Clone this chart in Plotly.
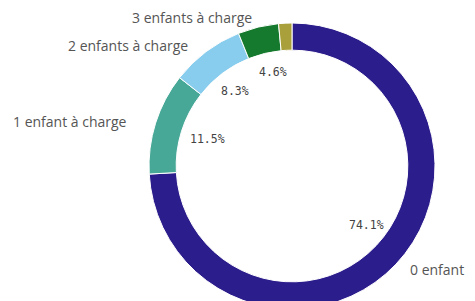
import plotly.graph_objects as go

W, H = 467, 301
OFF = 8  # page body margin in the browser

categories = ["0 enfant", "1 enfant à charge", "2 enfants à charge", "3 enfants à charge", "4 enfants ou plus"]
values = [74.1, 11.5, 8.3, 4.6, 1.5]
pct_labels = ["74.1%", "11.5%", "8.3%", "4.6%", ""]
colors = ["#2c1d8c", "#48a897", "#88cdee", "#167a2e", "#a9a03c"]


def px(x, y):
    return (x - OFF) / W, 1 - (y - OFF) / H


# pie box in page pixels
CX, CY, R = 292, 166, 143
x0, y_top = px(CX - R, CY - R)
x1, y_bot = px(CX + R, CY + R)
y_bot = max(0.0, y_bot)

fig = go.Figure(go.Pie(
    labels=categories,
    values=values,
    sort=False,
    direction="clockwise",
    rotation=0,
    hole=0.81,
    textinfo="none",
    hoverinfo="label+percent",
    marker=dict(colors=colors, line=dict(color="white", width=1)),
    domain=dict(x=[x0, x1], y=[y_bot, y_top]),
    showlegend=False,
))

# outside category labels (pixel positions of text centers)
cat_pos = {
    "0 enfant": (437, 269),
    "1 enfant à charge": (70, 121),
    "2 enfants à charge": (128, 45),
    "3 enfants à charge": (192, 18),
}
for name, (x, y) in cat_pos.items():
    xp, yp = px(x, y)
    fig.add_annotation(x=xp, y=yp, xref="paper", yref="paper", text=name,
                       showarrow=False, xanchor="center", yanchor="middle",
                       font=dict(family="Open Sans", size=14, color="#555555"))

pct_pos = [(366, 225), (207, 139), (235, 91), (273, 72)]
for t, (x, y) in zip(pct_labels, pct_pos):
    if not t:
        continue
    xp, yp = px(x, y)
    fig.add_annotation(x=xp, y=yp, xref="paper", yref="paper", text=t,
                       showarrow=False, xanchor="center", yanchor="middle",
                       font=dict(family="DejaVu Sans Mono", size=11.5, color="#444444"))

fig.update_layout(
    width=W, height=H,
    margin=dict(l=0, r=0, t=0, b=0),
    paper_bgcolor="white", plot_bgcolor="white",
)

fig.write_html("out.html")
